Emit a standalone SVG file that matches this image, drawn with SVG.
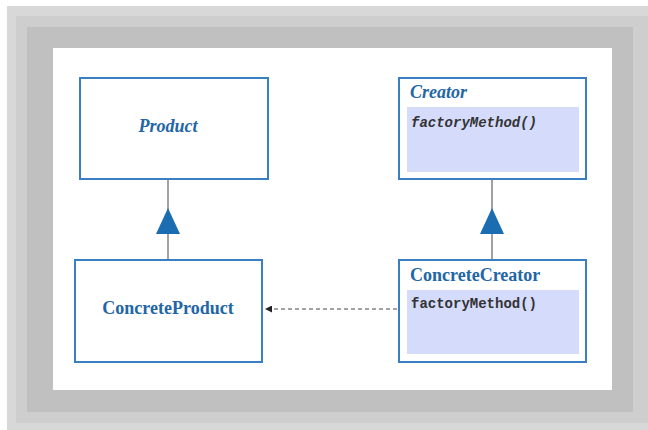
<svg xmlns="http://www.w3.org/2000/svg" width="648" height="430" viewBox="0 0 648 430">
<style>
.box{fill:#fff;stroke:#3a7fc2;stroke-width:2}
.ops{fill:#d5dbfb}
.title{font-family:"Liberation Serif",serif;font-weight:bold;font-size:18px;fill:#2366a6}
.it{font-style:italic}
.op{font-family:"Liberation Mono",monospace;font-weight:bold;font-size:14px;fill:#333}
.gen{stroke:#8a8a8a;stroke-width:1.6;fill:none}
.tri{fill:#1a6db0}
.dep{stroke:#444;stroke-width:1;stroke-dasharray:4 3;fill:none}
</style>
<defs>
<marker id="open" viewBox="0 0 10 10" refX="10" refY="5" markerWidth="7" markerHeight="7" orient="auto">
<path d="M0,0 L10,5 L0,10 z" fill="#222"/>
</marker>
</defs>
<rect x="7" y="6" width="641" height="424" fill="#d8d8d8"/>
<rect x="16" y="16" width="632" height="407" fill="#cecece"/>
<rect x="27" y="27" width="606" height="385" fill="#c0c0c0"/>
<rect x="53" y="48" width="559" height="342" fill="#ffffff"/>
<g id="connectors">
<line class="gen" x1="168" y1="179" x2="168" y2="260"/>
<polygon class="tri" points="168,208 156,234 180,234"/>
<line class="gen" x1="492" y1="179" x2="492" y2="260"/>
<polygon class="tri" points="492,208 480,234 504,234"/>
<line class="dep" x1="397" y1="309" x2="265" y2="309" marker-end="url(#open)"/>
</g>
<g id="product">
<rect class="box" x="80" y="78" width="188" height="101"/>
<text class="title it" x="168" y="132" text-anchor="middle">Product</text>
</g>
<g id="creator">
<rect class="box" x="399" y="78" width="187" height="101"/>
<text class="title it" x="410" y="98">Creator</text>
<rect class="ops" x="407" y="107" width="172" height="65"/>
<text class="op it" x="411" y="127">factoryMethod()</text>
</g>
<g id="concreteProduct">
<rect class="box" x="75" y="260" width="187" height="102"/>
<text class="title" x="168" y="314" text-anchor="middle">ConcreteProduct</text>
</g>
<g id="concreteCreator">
<rect class="box" x="399" y="260" width="187" height="102"/>
<text class="title" x="410" y="281">ConcreteCreator</text>
<rect class="ops" x="407" y="290" width="172" height="64"/>
<text class="op" x="411" y="308">factoryMethod()</text>
</g>
</svg>
